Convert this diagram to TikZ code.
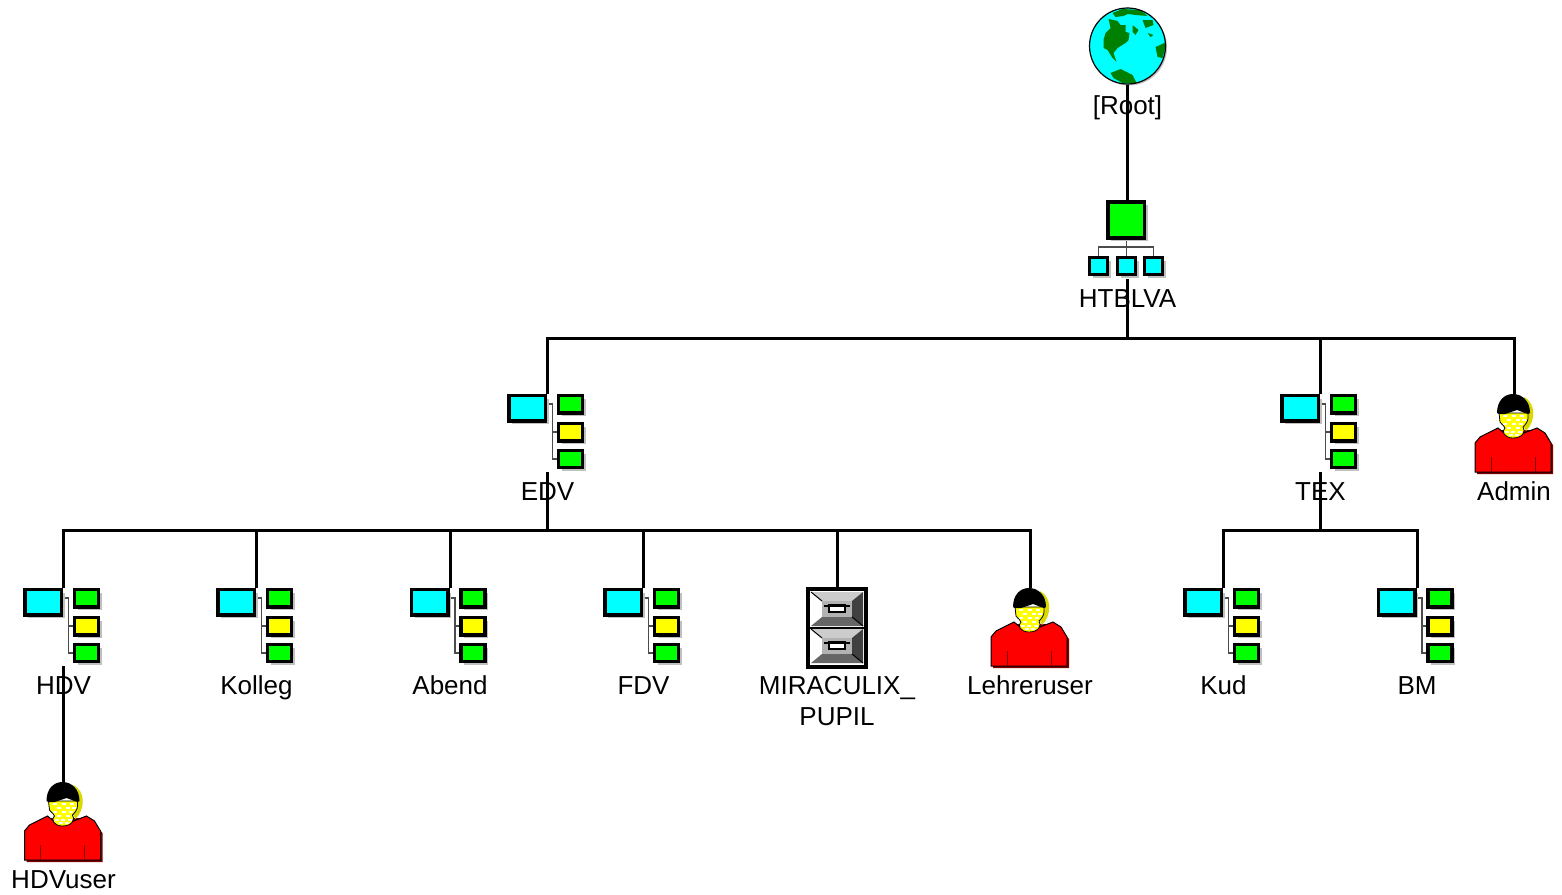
\documentclass[tikz,border=0pt]{standalone}
\usepackage{fontspec}
\setmainfont{Liberation Sans}
\usepackage{tikz}
\usetikzlibrary{positioning}
\definecolor{ndscyan}{HTML}{00FFFF}
\definecolor{ndsgreen}{HTML}{00FF00}
\definecolor{ndsyellow}{HTML}{FFFF00}
\definecolor{ndsland}{HTML}{008000}
\definecolor{ndsred}{HTML}{FF0000}
\definecolor{ndsdark}{HTML}{800000}
\definecolor{ndsshadow}{HTML}{C0C0C0}
\newcommand{\ndsbox}[5]{%
  \fill[ndsshadow] (#1+3,#2+3) rectangle (#3+3,#4+3);
  \draw[line width=1.65pt, fill=#5] (#1,#2) rectangle (#3,#4);
}
\newcommand{\ndsdrawer}[1]{%
  \begin{scope}[shift={(0,#1)}]
    \fill[white] (-26,-36) -- (-15,-27) -- (-15,-11) -- (-26,-2) -- cycle;
    \fill[black!20] (-26,-36) -- (26,-36) -- (15,-27) -- (-15,-27) -- cycle;
    \fill[black!75] (26,-36) -- (26,-2) -- (15,-11) -- (15,-27) -- cycle;
    \fill[black!60] (-26,-2) -- (26,-2) -- (15,-11) -- (-15,-11) -- cycle;
    \fill[black!30] (-15,-27) rectangle (15,-11);
    \draw[line width=.5pt] (-26,-36) -- (-15,-27);
    \draw[line width=.5pt] (26,-2) -- (15,-11);
    \draw[line width=1pt] (-13,-22.5) -- (13,-22.5);
    \draw[line width=1.25pt, fill=white] (-8,-22.5) rectangle (8,-16);
  \end{scope}
}
\begin{document}
\begin{tikzpicture}[
    x=0.5pt,
    y=-0.5pt,
    font=\fontsize{13}{15.5}\selectfont,
    icon/.style={rectangle, minimum size=39pt, inner sep=0pt},
    lab/.style={inner sep=0pt, text height=9.3pt, text depth=2.7pt},
    twolab/.style={inner sep=0pt, align=center},
    link/.style={line width=1.5pt, draw=black},
    tree/.style={line width=.6pt, draw=black!70},
    unitpic/.pic={
      \draw[tree] (-1,-29) -- (5,-29) -- (5,26) -- (11,26);
      \draw[tree] (5,-1) -- (11,-1);
      \ndsbox{-38.5}{-37.5}{-2}{-12}{ndscyan}
      \ndsbox{11}{-37.5}{35}{-20}{ndsgreen}
      \ndsbox{11}{-9.5}{35}{8}{ndsyellow}
      \ndsbox{11}{17.5}{35}{34.5}{ndsgreen}
    },
    orgpic/.pic={
      \draw[tree] (-1,-2) -- (-1,17);
      \draw[tree] (-29,17) -- (-29,7) -- (26,7) -- (26,17);
      \ndsbox{-19.5}{-38}{17}{-2}{ndsgreen}
      \ndsbox{-38}{17.5}{-20}{34.5}{ndscyan}
      \ndsbox{-10}{17.5}{8}{34.5}{ndscyan}
      \ndsbox{17}{17.5}{35}{34.5}{ndscyan}
    },
    globepic/.pic={
      \fill[ndsshadow] (1.5,1.5) circle (38);
      \begin{scope}
        \clip (0,0) circle (38);
        \fill[ndscyan] (0,0) circle (38);
        \fill[ndsland] (-19,-27) -- (-10,-25) -- (-7,-21) -- (-2,-21) -- (-2,-14) -- (2,-13) -- (1,-6) -- (-2,-3) -- (-10,2) -- (-14,7) -- (-11,16) -- (-15,12) -- (-20,4) -- (-24,2) -- (-24,-6) -- (-22,-13) -- (-17,-18) -- cycle;
        \fill[ndsland] (-15,-33) -- (-5,-37) -- (13,-36) -- (20,-30) -- (8,-31) -- (0,-32) -- (-4,-30) -- (-12,-29) -- cycle;
        \fill[ndsland] (15,-26) -- (25,-26) -- (26,-21) -- (18,-18) -- cycle;
        \fill[ndsland] (20,-13) -- (26,-11) -- (23,-9) -- cycle;
        \fill[ndsland] (5,-21) -- (11,-16) -- (8,-11) -- (5,-14) -- cycle;
        \fill[ndsland] (39,-4) -- (28,1) -- (30,11) -- (35,12) -- cycle;
        \fill[ndsland] (-17,27) -- (-7,23) -- (5,29) -- (9,37) -- (-5,37) -- (-14,32) -- cycle;
      \end{scope}
      \draw[line width=.6pt] (0,0) circle (38);
    },
    userpic/.pic={
      \fill[ndsdark] (-37,41) -- (-37,12) -- (-32,6) -- (-14,-3) -- (25,-3) -- (39,12) -- (39,41) -- cycle;
      \draw[line width=.5pt, fill=ndsred] (-39,39) -- (-39,10) -- (-34,4) -- (-16,-5) -- (-10,0) -- (10,0) -- (23,-5) -- (31,0) -- (37,10) -- (37,39) -- cycle;
      \draw[line width=.5pt, draw=ndsdark] (-23,24) -- (-23,39);
      \draw[line width=.5pt, draw=ndsdark] (21,24) -- (21,39);
      \fill[ndsyellow!85!black] (10,-36) .. controls (22,-30) and (22,-12) .. (12,-2) -- (8,-10) -- cycle;
      \draw[line width=.4pt, fill=ndsyellow] (-15,-20) -- (-14,-11) .. controls (-12,-8) and (-9,-7) .. (-9,-5) .. controls (-13,-2) and (-10,5) .. (-1,5) .. controls (9,5) and (12,-2) .. (9,-6) .. controls (12,-9) and (14,-12) .. (14,-15) -- (14,-20) -- cycle;
      \foreach \rowy/\rowx in {-17/-9, -17/0, -17/8, -13/-5, -13/4, -13/10, -9/-9, -9/0, -9/7, -5/-5, -5/4, -1/-7, -1/-1, -1/6, 2/-3, 2/3}{
        \fill[white] (\rowx-2,\rowy-1) rectangle (\rowx+2,\rowy+1);
      }
      \fill[black] (-17,-20) .. controls (-17,-32) and (-10,-39) .. (-1,-39) .. controls (8,-39) and (16,-32) .. (16,-20) -- (14,-19) -- (3,-23) -- (-9,-19) -- (-15,-19) -- cycle;
    },
    cabinetpic/.pic={
      \draw[line width=1.65pt, fill=white] (-29,-39) rectangle (29,39);
      \ndsdrawer{0}
      \ndsdrawer{37}
      \draw[line width=1pt] (-29,-0.5) -- (29,-0.5);
    }
  ]
    \node[icon] (root) at (1127.5,46) {};
    \pic at (root) {globepic};
    \node[lab, below=5pt of root] (rootlab) {[Root]};

    \node[icon] (htblva) at (1127.5,240) {};
    \pic at (htblva) {orgpic};
    \node[lab, below=4.7pt of htblva] (htblvalab) {HTBLVA};

    \node[icon] (edv) at (547.5,433) {};
    \pic at (edv) {unitpic};
    \node[lab, below=4.7pt of edv] (edvlab) {EDV};
    \node[icon] (tex) at (1320.5,433) {};
    \pic at (tex) {unitpic};
    \node[lab, below=4.7pt of tex] (texlab) {TEX};
    \node[icon] (admin) at (1514,433) {};
    \pic at (admin) {userpic};
    \node[lab, below=4.7pt of admin] (adminlab) {Admin};

    \node[icon] (hdv) at (63.5,627) {};
    \pic at (hdv) {unitpic};
    \node[lab, below=4.7pt of hdv] (hdvlab) {HDV};
    \node[icon] (kolleg) at (256.5,627) {};
    \pic at (kolleg) {unitpic};
    \node[lab, below=4.7pt of kolleg] (kolleglab) {Kolleg};
    \node[icon] (abend) at (450,627) {};
    \pic at (abend) {unitpic};
    \node[lab, below=4.7pt of abend] (abendlab) {Abend};
    \node[icon] (fdv) at (643.5,627) {};
    \pic at (fdv) {unitpic};
    \node[lab, below=4.7pt of fdv] (fdvlab) {FDV};
    \node[icon] (miraculix) at (837,628) {};
    \pic at (miraculix) {cabinetpic};
    \node[twolab, below=4.5pt of miraculix] (miraculixlab) {MIRACULIX\_\\PUPIL};
    \node[icon] (lehrer) at (1030,627) {};
    \pic at (lehrer) {userpic};
    \node[lab, below=4.7pt of lehrer] (lehrerlab) {Lehreruser};
    \node[icon] (kud) at (1223.5,627) {};
    \pic at (kud) {unitpic};
    \node[lab, below=4.7pt of kud] (kudlab) {Kud};
    \node[icon] (bm) at (1417,627) {};
    \pic at (bm) {unitpic};
    \node[lab, below=4.7pt of bm] (bmlab) {BM};

    \node[icon] (hdvuser) at (63.5,821) {};
    \pic at (hdvuser) {userpic};
    \node[lab, below=4.7pt of hdvuser] (hdvuserlab) {HDVuser};

    \coordinate (busa) at (1127.5,338);
    \coordinate (busb) at (547.5,530.5);
    \coordinate (busc) at (1320.5,530.5);

    \draw[link] (root.south) -- (htblva.north);
    \draw[link] (htblva.south) -- (busa);
    \draw[link] (busa) -| (edv.north);
    \draw[link] (busa) -| (tex.north);
    \draw[link] (busa) -| (admin.north);

    \draw[link] (edv.south) -- (busb);
    \draw[link] (busb) -| (hdv.north);
    \draw[link] (busb) -| (kolleg.north);
    \draw[link] (busb) -| (abend.north);
    \draw[link] (busb) -| (fdv.north);
    \draw[link] (busb) -| (miraculix.north);
    \draw[link] (busb) -| (lehrer.north);

    \draw[link] (tex.south) -- (busc);
    \draw[link] (busc) -| (kud.north);
    \draw[link] (busc) -| (bm.north);

    \draw[link] (hdv.south) -- (hdvuser.north);

    \useasboundingbox (0,0) rectangle (1562,894);
\end{tikzpicture}
\end{document}
